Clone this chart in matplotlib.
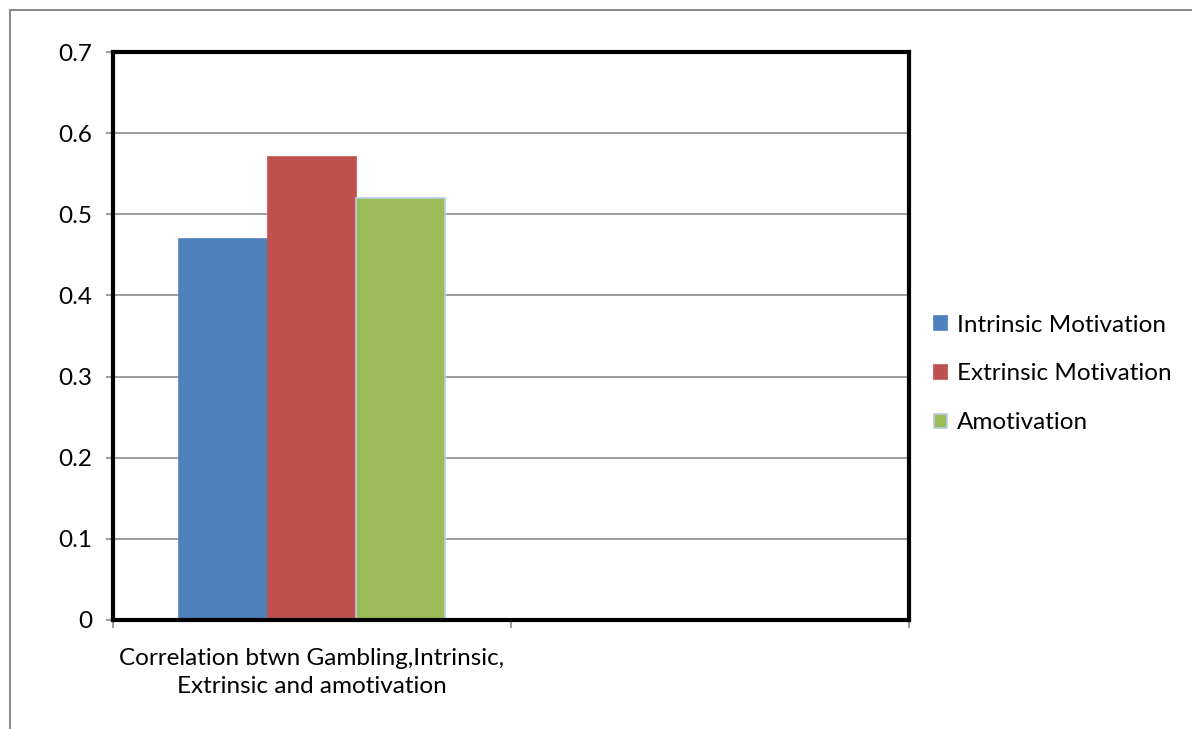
import numpy as np
import matplotlib.pyplot as plt
from matplotlib.patches import Rectangle

# data
categories = ["Correlation btwn Gambling,Intrinsic,\nExtrinsic and amotivation", ""]
series = ["Intrinsic Motivation", "Extrinsic Motivation", "Amotivation"]
intrinsic = [0.47, np.nan]
extrinsic = [0.57, np.nan]
amotivation = [0.52, np.nan]
y_ticks = [0, 0.1, 0.2, 0.3, 0.4, 0.5, 0.6, 0.7]
y_labels = ["0", "0.1", "0.2", "0.3", "0.4", "0.5", "0.6", "0.7"]

colors = ["#4F81BD", "#C0504D", "#9BBB59"]
edges = ["#4F81BD", "#C0504D", "#B9CDE5"]

plt.rcParams["font.family"] = ["Lato", "DejaVu Sans"]
FS = 17.5

W, H = 1192, 729
fig = plt.figure(figsize=(W / 100, H / 100), dpi=100)
ax = fig.add_axes([113 / W, 1 - 620 / H, (909 - 113) / W, (620 - 52) / H])

x = np.arange(len(categories))
width = 1 / 4.5
for i, (vals, name) in enumerate(zip([intrinsic, extrinsic, amotivation], series)):
    ax.bar(x + (i - 1) * width, vals, width, color=colors[i], edgecolor=edges[i],
           linewidth=1.2, label=name, zorder=3)

ax.set_xlim(-0.5, len(categories) - 0.5)
ax.set_ylim(0, 0.7)
ax.set_yticks(y_ticks)
ax.set_yticklabels(y_labels, fontsize=FS)
ax.yaxis.grid(True, color="#8C8C8C", linewidth=1.2, zorder=0)

# category labels centered, tick marks at category boundaries
ax.set_xticks(np.arange(-0.5, len(categories), 1.0))
ax.set_xticklabels([])
ax.set_xticks(x, minor=True)
ax.set_xticklabels(categories, minor=True, fontsize=FS, linespacing=1.45)
ax.tick_params(axis="x", which="minor", length=0, pad=20)
ax.tick_params(axis="x", which="major", length=6, color="#8C8C8C", width=1.2)
ax.tick_params(axis="y", length=5, color="#8C8C8C", width=1.2, pad=10)

for s in ax.spines.values():
    s.set_color("black")
    s.set_linewidth(3)
    s.set_zorder(5)

fig.legend(loc="center left", bbox_to_anchor=(912 / W, 1 - 374 / H), frameon=False,
           fontsize=FS, handlelength=0.55, handleheight=0.55, handletextpad=0.4,
           labelspacing=1.15)

# outer chart frame
fig.patches.append(Rectangle((10 / W, -0.05), 1.1, 1.05 - 10 / H, transform=fig.transFigure,
                             fill=False, edgecolor="#8C8C8C", linewidth=1.5))

fig.savefig("out.png", dpi=100)
